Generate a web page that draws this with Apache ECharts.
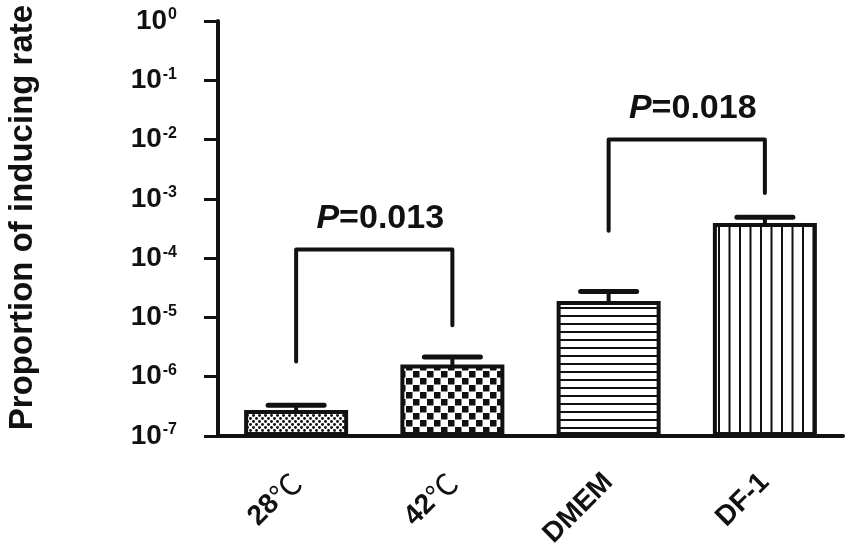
<!DOCTYPE html>
<html>
<head>
<meta charset="utf-8">
<script src="https://cdn.jsdelivr.net/npm/echarts@6/dist/echarts.min.js"></script>
<style>
  html, body { margin: 0; padding: 0; background: #fff; }
  #main { width: 851px; height: 555px; }
</style>
</head>
<body>
<div id="main"></div>
<script>
var categories = ['28℃', '42℃', 'DMEM', 'DF-1'];
var means = [2.75e-7, 1.6e-6, 1.9e-5, 3.9e-4];
var upper = [3.3e-7, 2.15e-6, 2.75e-5, 4.9e-4];
// brackets: [left cat, right cat, top, left end, right end, p text]
var brackets = [
  [0, 1, 1.4e-4, 1.8e-6, 7.4e-6, '0.013'],
  [2, 3, 1.0e-2, 2.9e-4, 1.25e-3, '0.018']
];

var FONT = 'Liberation Sans';
var INK = '#111';

function tile(w, h, draw) {
  var c = document.createElement('canvas');
  c.width = w;
  c.height = h;
  var g = c.getContext('2d');
  g.fillStyle = '#fff';
  g.fillRect(0, 0, w, h);
  g.fillStyle = INK;
  draw(g);
  return { image: c, repeat: 'repeat' };
}

// fill patterns, one per bar
var fills = [
  tile(6, 6, function (g) {
    g.beginPath(); g.arc(1.5, 1.5, 1.45, 0, Math.PI * 2); g.fill();
    g.beginPath(); g.arc(4.5, 4.5, 1.45, 0, Math.PI * 2); g.fill();
  }),
  tile(14, 14, function (g) {
    g.fillRect(0, 0, 6.5, 6.5);
    g.fillRect(7, 7, 6.5, 6.5);
  }),
  tile(4, 8, function (g) {
    g.fillRect(0, 3, 4, 2);
  }),
  tile(21, 4, function (g) {
    g.fillRect(4, 0, 2, 4);
    g.fillRect(14.5, 0, 2, 4);
  })
];

var barData = means.map(function (v, i) {
  return { value: v, itemStyle: { color: fills[i] } };
});
var errData = means.map(function (v, i) {
  return [i, v, upper[i]];
});

var chart = echarts.init(document.getElementById('main'));

var option = {
  animation: false,
  backgroundColor: '#fff',
  grid: {
    left: 218,
    right: 8,
    top: 21,
    bottom: 119,
    containLabel: false,
    outerBoundsMode: 'none'
  },
  xAxis: {
    type: 'category',
    data: categories,
    axisLine: { lineStyle: { color: INK, width: 4 } },
    axisTick: { alignWithLabel: true, length: 14, lineStyle: { color: INK, width: 3 } },
    axisLabel: {
      rotate: 45,
      margin: 42,
      color: INK,
      formatter: function (v) {
        return v.indexOf('℃') >= 0 ? '{t|' + v.replace('℃', '') + '}{c|℃}' : '{t|' + v + '}';
      },
      rich: {
        t: { fontFamily: FONT, fontWeight: 'bold', fontSize: 28, color: INK },
        c: { fontFamily: 'Noto Sans CJK SC', fontWeight: 'normal', fontSize: 30, color: INK }
      }
    }
  },
  yAxis: {
    type: 'log',
    logBase: 10,
    min: 1e-7,
    max: 1,
    startValue: 1e-7,
    name: 'Proportion of inducing rate',
    nameLocation: 'middle',
    nameGap: 179,
    nameRotate: 90,
    nameTextStyle: {
      color: INK,
      fontFamily: FONT,
      fontWeight: 'bold',
      fontSize: 33,
      padding: [0, 0, 0, 22]
    },
    splitLine: { show: false },
    axisLine: { show: true, lineStyle: { color: INK, width: 4 } },
    axisTick: { show: true, length: 14, lineStyle: { color: INK, width: 3 } },
    axisLabel: {
      margin: 41,
      color: INK,
      formatter: function (v) {
        return '{b|10}{s|' + Math.round(Math.log10(v)) + '}';
      },
      rich: {
        b: { fontFamily: FONT, fontWeight: 'bold', fontSize: 28, color: INK },
        s: { fontFamily: FONT, fontWeight: 'bold', fontSize: 16, color: INK, verticalAlign: 'top', padding: [0, 0, 12, 1] }
      }
    }
  },
  series: [{
    type: 'bar',
    barWidth: 104,
    data: barData,
    itemStyle: { borderColor: INK, borderWidth: 4 },
    z: 2
  }, {
    type: 'custom',
    data: errData,
    z: 3,
    renderItem: function (params, api) {
      var p0 = api.coord([api.value(0), api.value(1)]);
      var p1 = api.coord([api.value(0), api.value(2)]);
      var half = 28;
      return {
        type: 'group',
        children: [{
          type: 'line',
          shape: { x1: p0[0], y1: p0[1], x2: p1[0], y2: p1[1] },
          style: { stroke: INK, lineWidth: 4, lineCap: 'round' }
        }, {
          type: 'line',
          shape: { x1: p1[0] - half, y1: p1[1], x2: p1[0] + half, y2: p1[1] },
          style: { stroke: INK, lineWidth: 5, lineCap: 'round' }
        }]
      };
    }
  }, {
    type: 'custom',
    data: brackets,
    z: 3,
    renderItem: function (params, api) {
      var b = brackets[params.dataIndex];
      var a = api.coord([b[0], b[3]]);
      var t1 = api.coord([b[0], b[2]]);
      var t2 = api.coord([b[1], b[2]]);
      var c = api.coord([b[1], b[4]]);
      return {
        type: 'group',
        children: [{
          type: 'polyline',
          shape: { points: [a, t1, t2, c] },
          style: { stroke: INK, lineWidth: 4, lineCap: 'round', lineJoin: 'round', fill: 'none' }
        }, {
          type: 'text',
          x: (t1[0] + t2[0]) / 2 + 6,
          y: t1[1] - 31,
          style: {
            text: '{i|P}{n|=' + b[5] + '}',
            align: 'center',
            verticalAlign: 'middle',
            rich: {
              i: { fontFamily: FONT, fontWeight: 'bold', fontStyle: 'italic', fontSize: 34, fill: INK },
              n: { fontFamily: FONT, fontWeight: 'bold', fontSize: 34, fill: INK }
            }
          }
        }]
      };
    }
  }]
};

chart.setOption(option);
</script>
</body>
</html>
